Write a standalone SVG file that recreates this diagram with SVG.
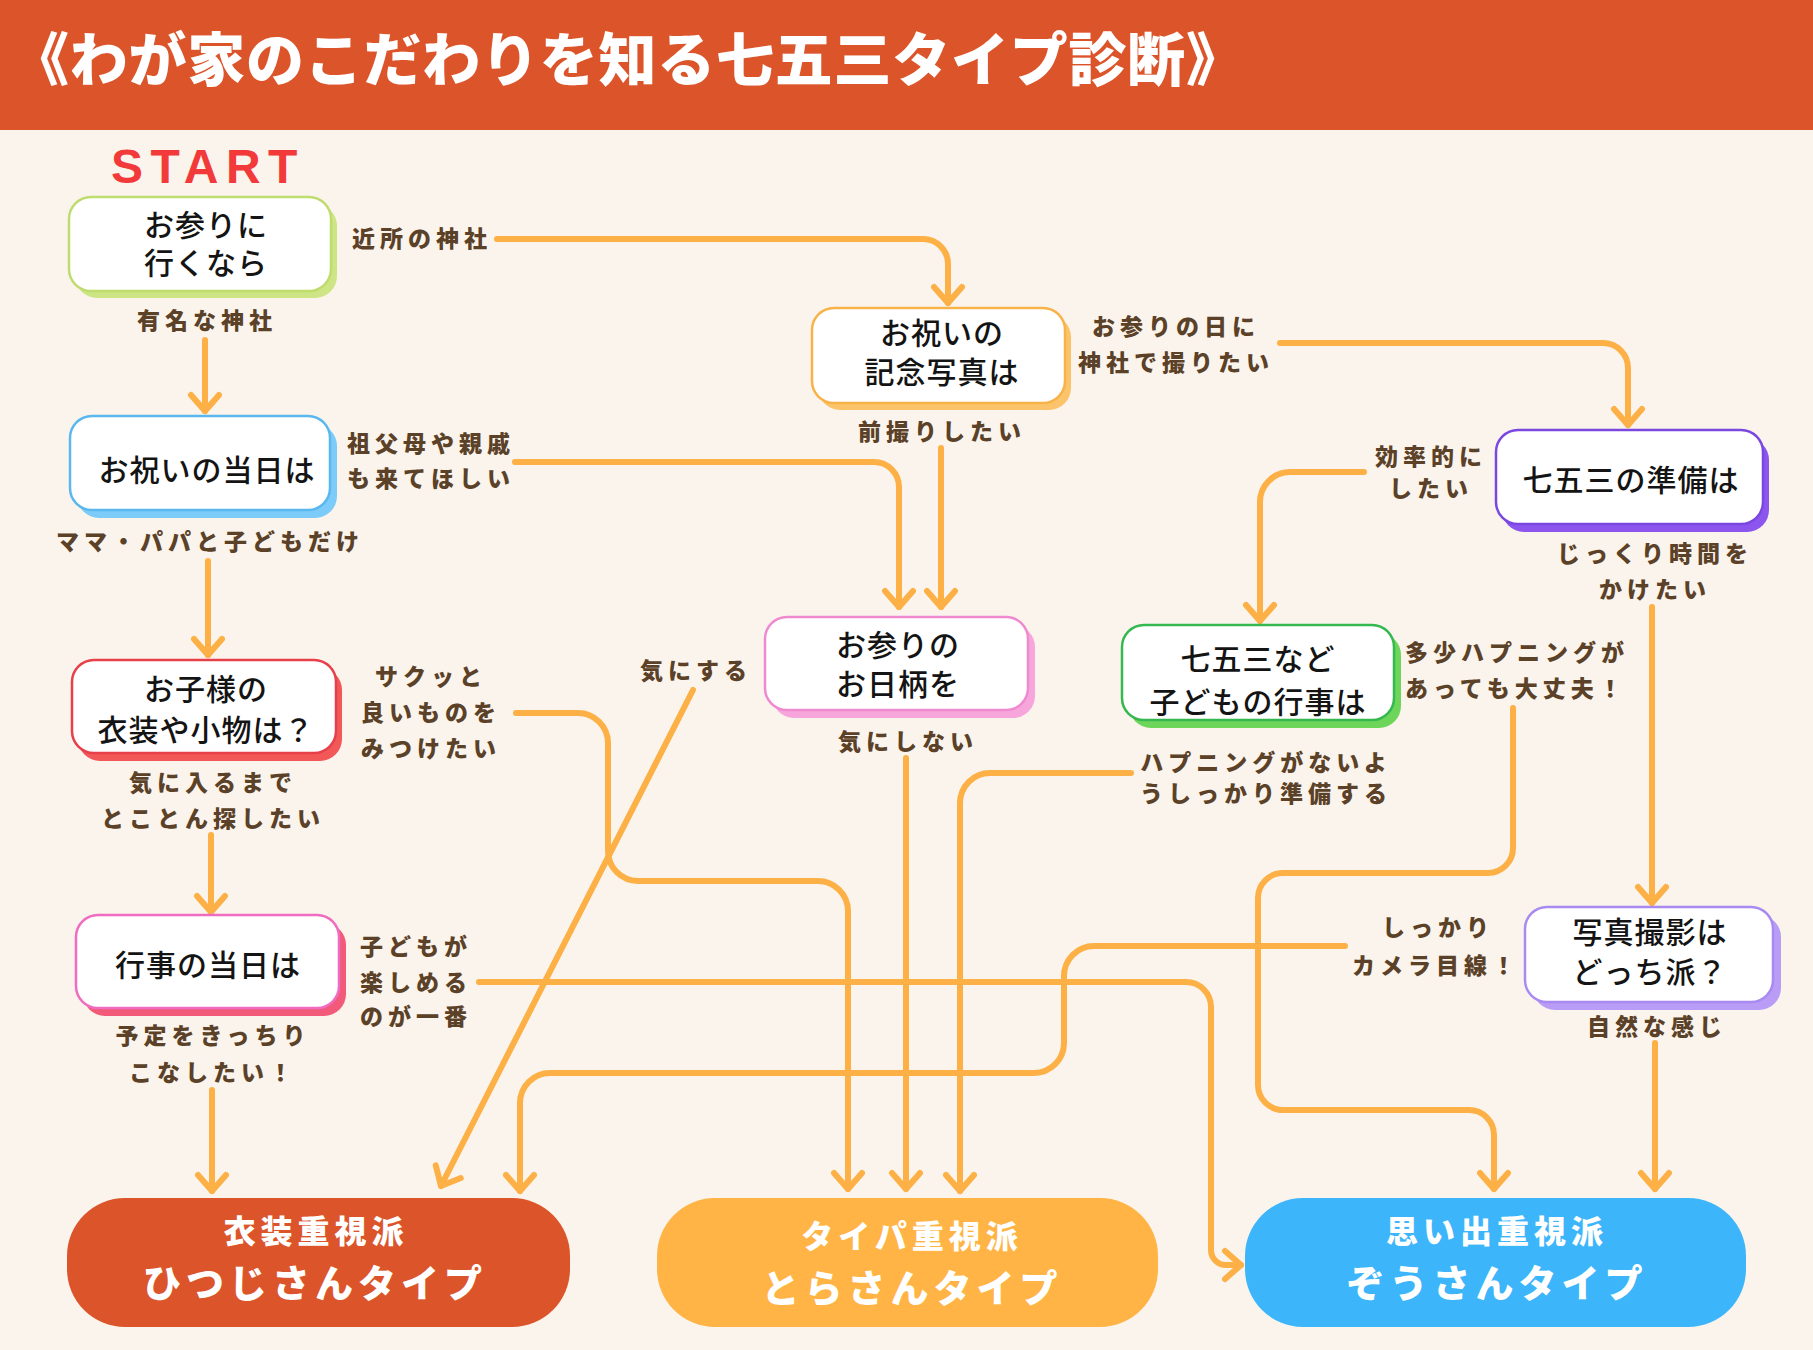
<svg xmlns="http://www.w3.org/2000/svg" width="1813" height="1350" viewBox="0 0 1813 1350">
<defs>
<style>
.nt{font-family:"Noto Sans CJK JP","Noto Sans",sans-serif;font-weight:500;font-size:30px;fill:#141414;letter-spacing:1px;text-anchor:middle}
.lb{font-family:"Noto Sans CJK JP","Noto Sans",sans-serif;font-weight:900;font-size:23px;fill:#5B4128;letter-spacing:5px}
.mid{text-anchor:middle}
.ln{fill:none;stroke:#FDB045;stroke-width:6;stroke-linecap:round;stroke-linejoin:round;marker-end:url(#ah)}
.box{fill:#fff;stroke-width:2.5}
.rt1{font-family:"Noto Sans CJK JP","Noto Sans",sans-serif;font-weight:900;font-size:32px;fill:#fff;letter-spacing:5px;text-anchor:middle}
.rt2{font-family:"Noto Sans CJK JP","Noto Sans",sans-serif;font-weight:900;font-size:38px;fill:#fff;letter-spacing:5px;text-anchor:middle}
</style>
<marker id="ah" markerUnits="userSpaceOnUse" markerWidth="40" markerHeight="40" viewBox="-20 -20 40 40" refX="0" refY="0" orient="auto" overflow="visible">
<path d="M-16,-14 L0,0 L-16,14" fill="none" stroke="#FDB045" stroke-width="6" stroke-linecap="round" stroke-linejoin="round"/>
</marker>
</defs>
<rect x="0" y="0" width="1813" height="1350" fill="#FAF4EC"/>
<g id="header">
<rect x="0" y="0" width="1813" height="130" fill="#DC5429"/>
<text x="11" y="81" font-family="Noto Sans CJK JP, sans-serif" font-weight="900" font-size="58" fill="#fff" letter-spacing="0.75">《わが家のこだわりを知る七五三タイプ診断》</text>
</g>
<text id="start" x="111" y="183" font-family="Liberation Sans, Arial, sans-serif" font-weight="700" font-size="48" fill="#F23A3A" letter-spacing="7.5">START</text>

<g id="connectors">
<path class="ln" d="M497,239 H923 A25,25 0 0 1 948,264 V303"/>
<path class="ln" d="M205,340 V411"/>
<path class="ln" d="M1280,343 H1603 A25,25 0 0 1 1628,368 V425"/>
<path class="ln" d="M941,448 V607"/>
<path class="ln" d="M515,462 H874 A25,25 0 0 1 899,487 V607"/>
<path class="ln" d="M1364,472 H1290 A30,30 0 0 0 1260,502 V621"/>
<path class="ln" d="M1652,607 V903"/>
<path class="ln" d="M208,561 V655"/>
<path class="ln" d="M693,690 L441,1186"/>
<path class="ln" d="M906,758 V1189"/>
<path class="ln" d="M1513,708 V848 A25,25 0 0 1 1488,873 H1283 A25,25 0 0 0 1258,898 V1085 A25,25 0 0 0 1283,1110 H1469 A25,25 0 0 1 1494,1135 V1189"/>
<path class="ln" d="M1131,773 H990 A30,30 0 0 0 960,803 V1191"/>
<path class="ln" d="M516,713 H578 A30,30 0 0 1 608,743 V851 A30,30 0 0 0 638,881 H818 A30,30 0 0 1 848,911 V1189"/>
<path class="ln" d="M211,835 V912"/>
<path class="ln" d="M479,982 H1186 A25,25 0 0 1 1211,1007 V1250 A15,15 0 0 0 1226,1265 H1241"/>
<path class="ln" d="M212,1090 V1191"/>
<path class="ln" d="M1345,946 H1094 A30,30 0 0 0 1064,976 V1043 A30,30 0 0 1 1034,1073 H550 A30,30 0 0 0 520,1103 V1191"/>
<path class="ln" d="M1655,1043 V1189"/>
</g>

<g id="labels">
<text class="lb" x="352" y="247">近所の神社</text>
<text class="lb mid" x="207" y="329">有名な神社</text>
<text class="lb mid" x="1176" y="335">お参りの日に</text>
<text class="lb mid" x="1176" y="371">神社で撮りたい</text>
<text class="lb mid" x="942" y="440">前撮りしたい</text>
<text class="lb mid" x="1431" y="465">効率的に</text>
<text class="lb mid" x="1431" y="497">したい</text>
<text class="lb mid" x="1655" y="562">じっくり時間を</text>
<text class="lb mid" x="1655" y="598">かけたい</text>
<text class="lb" x="347" y="452">祖父母や親戚</text>
<text class="lb" x="347" y="487">も来てほしい</text>
<text class="lb mid" x="210" y="550">ママ・パパと子どもだけ</text>
<text class="lb mid" x="696" y="679">気にする</text>
<text class="lb mid" x="908" y="750">気にしない</text>
<text class="lb" x="1405" y="661">多少ハプニングが</text>
<text class="lb" x="1405" y="697">あっても大丈夫！</text>
<text class="lb mid" x="1266" y="771">ハプニングがないよ</text>
<text class="lb mid" x="1266" y="802">うしっかり準備する</text>
<text class="lb mid" x="431" y="685">サクッと</text>
<text class="lb mid" x="431" y="721">良いものを</text>
<text class="lb mid" x="431" y="757">みつけたい</text>
<text class="lb mid" x="213" y="791">気に入るまで</text>
<text class="lb mid" x="213" y="827">とことん探したい</text>
<text class="lb" x="360" y="955">子どもが</text>
<text class="lb" x="360" y="991">楽しめる</text>
<text class="lb" x="360" y="1025">のが一番</text>
<text class="lb mid" x="213" y="1044">予定をきっちり</text>
<text class="lb mid" x="213" y="1081">こなしたい！</text>
<text class="lb mid" x="1438" y="936">しっかり</text>
<text class="lb mid" x="1436" y="974">カメラ目線！</text>
<text class="lb mid" x="1657" y="1035">自然な感じ</text>
</g>

<g id="n1">
<rect x="75" y="204" width="262" height="94" rx="22" fill="#CDE585"/>
<rect class="box" x="69" y="197" width="262" height="94" rx="22" stroke="#BFDC6E"/>
<text class="nt" x="206" y="236">お参りに</text>
<text class="nt" x="206" y="274">行くなら</text>
</g>
<g id="n2">
<rect x="818" y="315" width="253" height="95" rx="22" fill="#FBC46A"/>
<rect class="box" x="812" y="308" width="253" height="95" rx="22" stroke="#F8B24A"/>
<text class="nt" x="942" y="344">お祝いの</text>
<text class="nt" x="942" y="383">記念写真は</text>
</g>
<g id="n3">
<rect x="1502" y="438" width="267" height="94" rx="22" fill="#8B55EE"/>
<rect class="box" x="1496" y="430" width="267" height="94" rx="22" stroke="#7A48E0"/>
<text class="nt" x="1631" y="491">七五三の準備は</text>
</g>
<g id="n4">
<rect x="77" y="424" width="260" height="94" rx="22" fill="#7CCBF8"/>
<rect class="box" x="70" y="416" width="260" height="94" rx="22" stroke="#5AB8EE"/>
<text class="nt" x="207" y="481">お祝いの当日は</text>
</g>
<g id="n5">
<rect x="772" y="625" width="263" height="93" rx="22" fill="#F7A6DC"/>
<rect class="box" x="765" y="617" width="263" height="93" rx="22" stroke="#F08AD0"/>
<text class="nt" x="898" y="656">お参りの</text>
<text class="nt" x="898" y="695">お日柄を</text>
</g>
<g id="n6">
<rect x="1129" y="633" width="272" height="95" rx="22" fill="#6DD65A"/>
<rect class="box" x="1122" y="625" width="272" height="95" rx="22" stroke="#35B850"/>
<text class="nt" x="1258" y="670">七五三など</text>
<text class="nt" x="1258" y="713">子どもの行事は</text>
</g>
<g id="n7">
<rect x="78" y="668" width="264" height="93" rx="22" fill="#F25858"/>
<rect class="box" x="72" y="660" width="264" height="93" rx="22" stroke="#E8404A"/>
<text class="nt" x="206" y="700">お子様の</text>
<text class="nt" x="206" y="741">衣装や小物は？</text>
</g>
<g id="n8">
<rect x="83" y="923" width="263" height="93" rx="22" fill="#F25A7A"/>
<rect class="box" x="76" y="915" width="263" height="93" rx="22" stroke="#F06CC0"/>
<text class="nt" x="208" y="976">行事の当日は</text>
</g>
<g id="n9">
<rect x="1533" y="915" width="248" height="95" rx="22" fill="#B89CF5"/>
<rect class="box" x="1525" y="907" width="248" height="95" rx="22" stroke="#A88AF0"/>
<text class="nt" x="1650" y="943">写真撮影は</text>
<text class="nt" x="1650" y="983">どっち派？</text>
</g>

<g id="typeA">
<rect x="67" y="1198" width="503" height="129" rx="58" fill="#DC5429"/>
<text class="rt1" x="316" y="1243">衣装重視派</text>
<text class="rt2" x="315" y="1297">ひつじさんタイプ</text>
</g>
<g id="typeB">
<rect x="657" y="1198" width="501" height="129" rx="58" fill="#FFB445"/>
<text class="rt1" x="912" y="1248">タイパ重視派</text>
<text class="rt2" x="912" y="1302">とらさんタイプ</text>
</g>
<g id="typeC">
<rect x="1245" y="1198" width="501" height="129" rx="58" fill="#3CB5FA"/>
<text class="rt1" x="1497" y="1243">思い出重視派</text>
<text class="rt2" x="1497" y="1297">ぞうさんタイプ</text>
</g>
</svg>
